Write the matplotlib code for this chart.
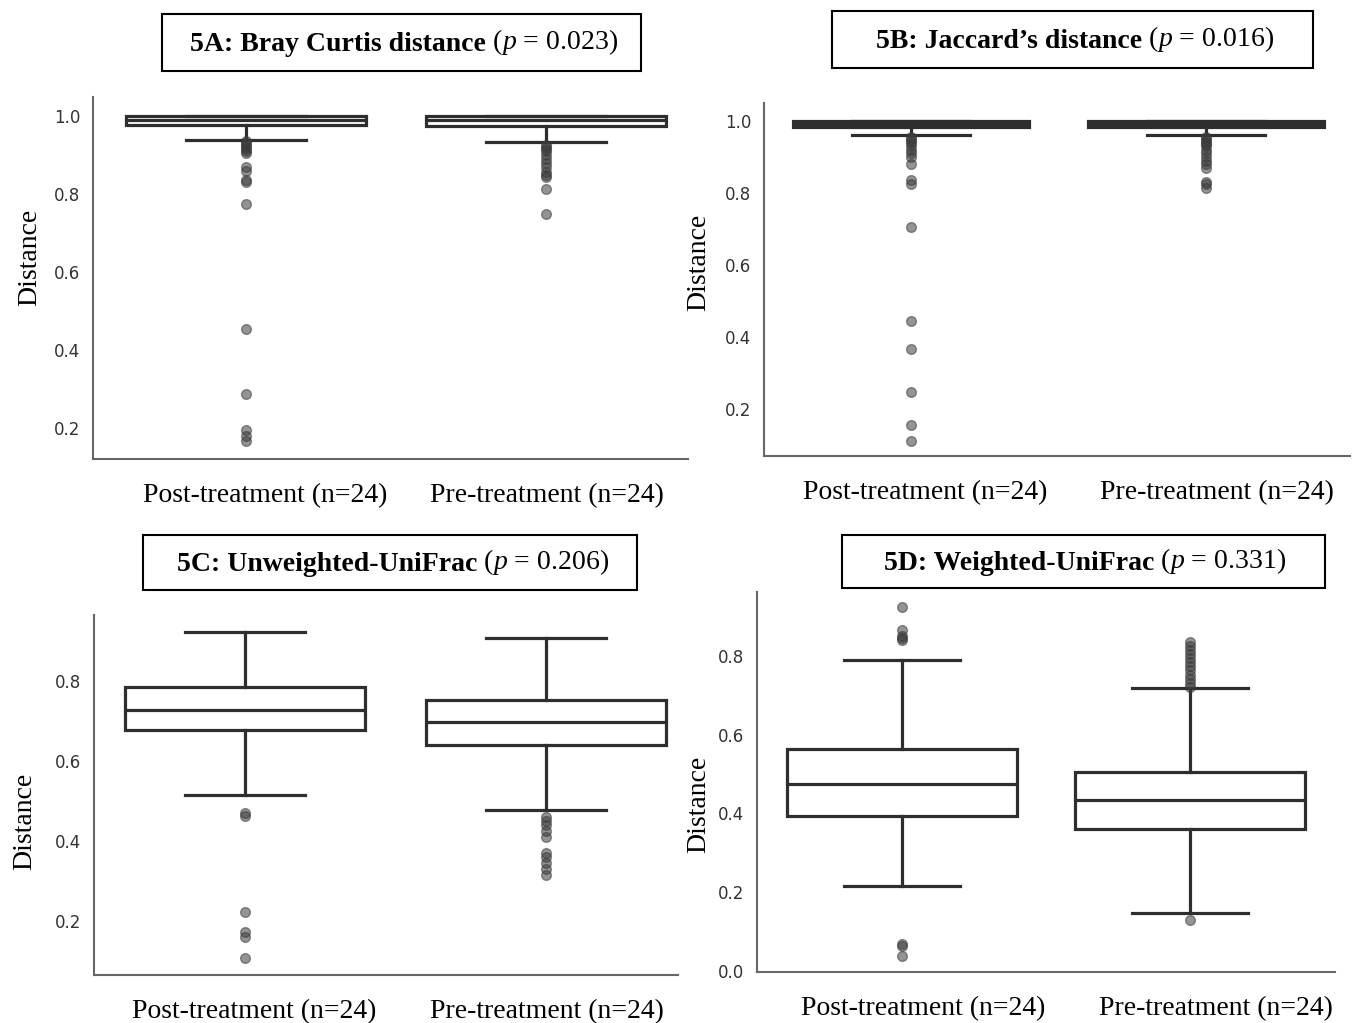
import matplotlib.pyplot as plt
from matplotlib.patches import Rectangle

plt.rcParams['mathtext.fontset'] = 'custom'
plt.rcParams['mathtext.rm'] = 'Liberation Serif'
plt.rcParams['mathtext.it'] = 'Liberation Serif:italic'
plt.rcParams['mathtext.bf'] = 'Liberation Serif:bold'

groups = ["Post-treatment (n=24)", "Pre-treatment (n=24)"]

# ---- 5A Bray Curtis ----
a_title = "5A: Bray Curtis distance"
a_p = "0.023"
a_q1 = [0.977, 0.974]
a_med = [0.990, 0.990]
a_q3 = [1.000, 1.000]
a_lo = [0.940, 0.933]
a_hi = [1.000, 1.000]
a_fliers = [
    [0.935, 0.93, 0.925, 0.92, 0.915, 0.91, 0.905, 0.87, 0.86, 0.835, 0.83,
     0.774, 0.454, 0.287, 0.195, 0.18, 0.167],
    [0.925, 0.92, 0.915, 0.91, 0.90, 0.89, 0.88, 0.87, 0.856, 0.85, 0.843,
     0.813, 0.749],
]
a_yticks = [0.2, 0.4, 0.6, 0.8, 1.0]

# ---- 5B Jaccard ----
b_title = "5B: Jaccard\u2019s distance"
b_p = "0.016"
b_q1 = [0.983, 0.983]
b_med = [0.993, 0.993]
b_q3 = [1.000, 1.000]
b_lo = [0.960, 0.960]
b_hi = [1.000, 1.000]
b_fliers = [
    [0.955, 0.95, 0.945, 0.94, 0.93, 0.92, 0.91, 0.90, 0.88, 0.835, 0.825,
     0.705, 0.444, 0.367, 0.247, 0.156, 0.111],
    [0.955, 0.95, 0.945, 0.94, 0.935, 0.93, 0.92, 0.91, 0.90, 0.89, 0.88,
     0.87, 0.83, 0.825, 0.815],
]
b_yticks = [0.2, 0.4, 0.6, 0.8, 1.0]

# ---- 5C Unweighted UniFrac ----
c_title = "5C: Unweighted-UniFrac"
c_p = "0.206"
c_q1 = [0.6775, 0.640]
c_med = [0.7275, 0.6975]
c_q3 = [0.785, 0.7525]
c_lo = [0.515, 0.4775]
c_hi = [0.9225, 0.9075]
c_fliers = [
    [0.47, 0.462, 0.2225, 0.172, 0.16, 0.1075],
    [0.46, 0.45, 0.44, 0.425, 0.41, 0.37, 0.36, 0.345, 0.33, 0.315],
]
c_yticks = [0.2, 0.4, 0.6, 0.8]

# ---- 5D Weighted UniFrac ----
d_title = "5D: Weighted-UniFrac"
d_p = "0.331"
d_q1 = [0.394, 0.360]
d_med = [0.475, 0.434]
d_q3 = [0.564, 0.505]
d_lo = [0.216, 0.147]
d_hi = [0.790, 0.719]
d_fliers = [
    [0.924, 0.866, 0.851, 0.845, 0.84, 0.068, 0.062, 0.038],
    [0.836, 0.825, 0.815, 0.805, 0.795, 0.785, 0.775, 0.765, 0.752, 0.74,
     0.73, 0.722, 0.13],
]
d_yticks = [0.0, 0.2, 0.4, 0.6, 0.8]

W, H = 1352, 1023
fig = plt.figure(figsize=(W / 100, H / 100), dpi=100)


def px_rect(l, t, r, b):
    return [l / W, 1 - b / H, (r - l) / W, (b - t) / H]


# axes px (l,t,r,b), xlim, ylim, title box px, title text start/baseline,
# ylabel centre, x label positions (data units)
panels = [
    dict(title=a_title, p=a_p, q1=a_q1, med=a_med, q3=a_q3, lo=a_lo, hi=a_hi,
         fl=a_fliers, yt=a_yticks, ax=(93, 97, 688, 459), xlim=(-0.51, 1.473),
         ylim=(0.121, 1.049), box=(162, 14, 641, 71), tx=(190, 51), yl=(30, 257),
         xl=[0.063, 1.003]),
    dict(title=b_title, p=b_p, q1=b_q1, med=b_med, q3=b_q3, lo=b_lo, hi=b_hi,
         fl=b_fliers, yt=b_yticks, ax=(764, 103, 1350, 456), xlim=(-0.498, 1.488),
         ylim=(0.069, 1.05), box=(832, 11, 1313, 68), tx=(876, 48), yl=(699, 262),
         xl=[0.047, 1.037]),
    dict(title=c_title, p=c_p, q1=c_q1, med=c_med, q3=c_q3, lo=c_lo, hi=c_hi,
         fl=c_fliers, yt=c_yticks, ax=(94, 615, 678, 975), xlim=(-0.502, 1.439),
         ylim=(0.065, 0.965), box=(143, 535, 637, 590), tx=(177, 571), yl=(25, 821),
         xl=[0.03, 1.003]),
    dict(title=d_title, p=d_p, q1=d_q1, med=d_med, q3=d_q3, lo=d_lo, hi=d_hi,
         fl=d_fliers, yt=d_yticks, ax=(757, 592, 1335, 972), xlim=(-0.503, 1.503),
         ylim=(-0.003, 0.962), box=(842, 535, 1325, 588), tx=(884, 570), yl=(699, 804),
         xl=[0.073, 1.09]),
]

line_c = "#2e2e2e"
for pn in panels:
    ax = fig.add_axes(px_rect(*pn["ax"]))
    stats = []
    for i in range(2):
        stats.append(dict(q1=pn["q1"][i], med=pn["med"][i], q3=pn["q3"][i],
                          whislo=pn["lo"][i], whishi=pn["hi"][i],
                          fliers=pn["fl"][i]))
    lp = dict(color=line_c, linewidth=2.3)
    ax.bxp(stats, positions=[0, 1], widths=0.8, capwidths=0.4, patch_artist=True,
           boxprops=dict(facecolor="white", edgecolor=line_c, linewidth=2.3),
           medianprops=lp, whiskerprops=lp, capprops=lp,
           flierprops=dict(marker="o", markersize=7, markerfacecolor="#3c3c3c",
                           markeredgecolor="#3c3c3c", alpha=0.55))
    ax.set_xlim(*pn["xlim"])
    ax.set_ylim(*pn["ylim"])
    ax.set_yticks(pn["yt"])
    ax.set_yticklabels([f"{v:.1f}" for v in pn["yt"]])
    ax.set_xticks(pn["xl"])
    ax.set_xticklabels(groups, family="Liberation Serif", fontsize=20)
    ax.tick_params(axis="x", length=0, pad=17, colors="black")
    ax.tick_params(axis="y", length=0, pad=9, labelsize=12, labelcolor="#333333")
    for s in ["top", "right"]:
        ax.spines[s].set_visible(False)
    for s in ["left", "bottom"]:
        ax.spines[s].set_color("#666666")
        ax.spines[s].set_linewidth(1.5)

    # boxed title
    l, t, r, b = pn["box"]
    fig.add_artist(Rectangle((l / W, 1 - b / H), (r - l) / W, (b - t) / H,
                             transform=fig.transFigure, fill=False,
                             edgecolor="black", linewidth=1.5))
    t1 = fig.text(pn["tx"][0] / W, 1 - pn["tx"][1] / H, pn["title"],
                  family="Liberation Serif", fontweight="bold", fontsize=20,
                  ha="left", va="baseline")
    ax.annotate(" ($p$ = " + pn["p"] + ")", xy=(1, 0), xycoords=t1,
                xytext=(0, 0), textcoords="offset points",
                family="Liberation Serif", fontsize=20, ha="left", va="bottom",
                annotation_clip=False)

    fig.text(pn["yl"][0] / W, 1 - pn["yl"][1] / H, "Distance",
             family="Liberation Serif", fontsize=20, rotation=90,
             ha="center", va="center")

fig.savefig("out.png", dpi=100)
